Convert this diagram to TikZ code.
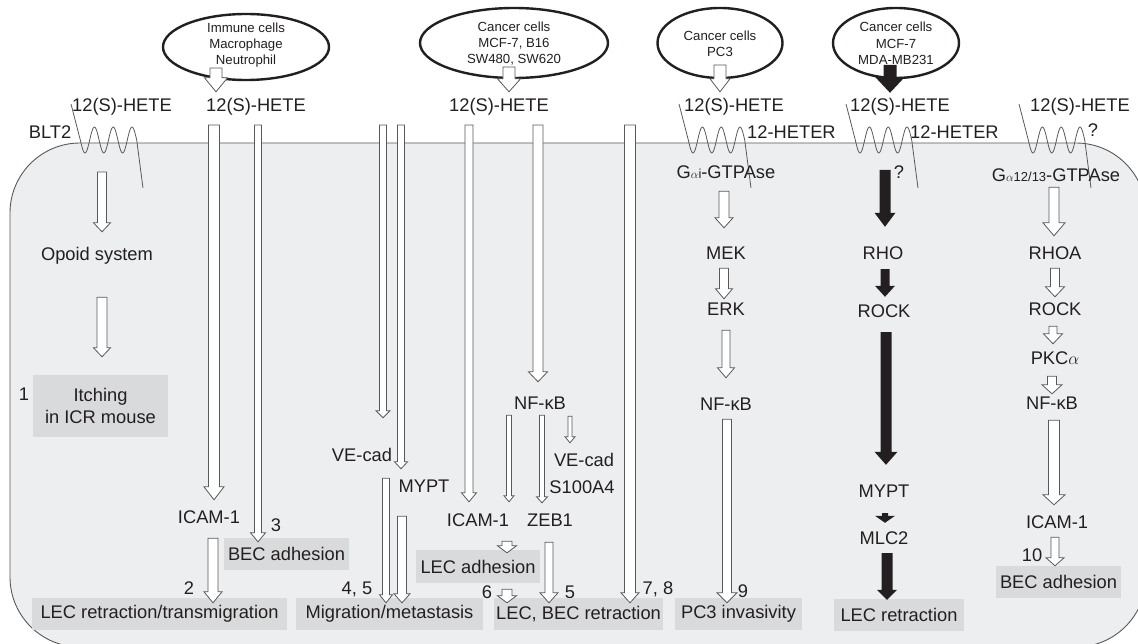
\documentclass[tikz,border=0pt]{standalone}
\usepackage{fontspec}
\setmainfont{Liberation Sans}
\usetikzlibrary{calc, shapes.geometric}
\definecolor{cInk}  {HTML}{231F20}
\definecolor{cCell} {HTML}{EDEEF0}
\definecolor{cBox}  {HTML}{D9DADC}
\definecolor{cEdge} {HTML}{58595B}
\tikzset{
  lbl/.style={font=\fontsize{18.3}{20}\selectfont, text=cInk, inner sep=0pt,
    text height=13pt, text depth=0pt},
  gbox/.style={fill=cBox, inner sep=0pt, text=cInk, minimum height=32pt,
    font=\fontsize{18.3}{22}\selectfont},
  cellell/.style={ellipse, draw=cInk, line width=2.4pt, fill=white,
    inner sep=0pt, outer sep=0pt},
  elltxt/.style={font=\fontsize{13.2}{16.3}\selectfont, align=center,
    text=cInk, inner sep=0pt},
  hollow/.style={draw=cEdge, fill=white, line width=0.8pt},
  blackarr/.style={fill=cInk},
  recep/.style={draw=cEdge, line width=0.8pt},
}
% vertical block arrow: [style]{from}{to}{shaft w}{head w}{head length}
\newcommand{\blk}[6][hollow]{%
  \path[#1] let \p1=#2, \p2=#3 in
    (\x1-#4/2,\y1) -- (\x1+#4/2,\y1) -- (\x1+#4/2,\y2+#6) -- (\x1+#5/2,\y2+#6)
    -- (\x1,\y2) -- (\x1-#5/2,\y2+#6) -- (\x1-#4/2,\y2+#6) -- cycle;}
% seven-pass receptor, #1 = first trough
\newcommand{\receptor}[1]{%
  \draw[recep] (#1-14,104) -- plot[domain=-90:990, samples=73]
    ({#1+\x/180*9.4},{140+13*cos(\x)}) -- (#1+58,188);}

\begin{document}
\begin{tikzpicture}[x=1pt, y=-1pt]
  \useasboundingbox (0,0) rectangle (1138,644);
  \clip (0,0) rectangle (1138,644);
  % cell
  \path[draw=cEdge, fill=cCell, line width=0.9pt, rounded corners=70pt]
    (10,143) rectangle (1146,647);
  % receptors
  \foreach \r in {85,693,860,1033}{ \receptor{\r} }
  % ligands and receptor names
  \foreach \n/\x in {1/122,2/256,3/499,4/734,5/900,6/1080}
    \node[lbl] (hete\n) at (\x,105) {12(S)-HETE};
  \node[lbl] (blt) at (50,132) {BLT2};
  \node[lbl, anchor=west] (heter1) at (747,132) {12-HETER};
  \node[lbl, anchor=west] (heter2) at (910,132) {12-HETER};
  \node[lbl] (qa) at (1093,130) {?};
  \node[lbl] (qb) at (899,172) {?};

  % BLT2 column
  \node[lbl] (opoid) at (97,254) {Opoid system};
  \node[gbox, minimum width=135pt, minimum height=62pt, align=center]
    (itch) at (100.5,406) {Itching\\in ICR mouse};
  \node[lbl] (n1) at (24,394) {1};
  % immune cell columns
  \node[lbl] (icam1) at (209,517) {ICAM-1};
  \node[lbl] (n2) at (189,588) {2};
  \node[lbl] (n3) at (276,525) {3};
  \node[gbox, minimum width=125pt] (bec1) at (286.5,554) {BEC adhesion};
  \node[gbox, minimum width=255pt] (lec1) at (159.5,614) {LEC retraction/transmigration};
  % cancer cell columns
  \node[lbl] (vecad1) at (362,455) {VE-cad};
  \node[lbl] (mypt1) at (424,486) {MYPT};
  \node[lbl] (n45) at (357,588) {4, 5};
  \node[gbox, minimum width=187pt] (migr) at (389.5,614) {Migration/metastasis};
  \node[lbl] (nfkb1) at (540,403) {NF-κB};
  \node[lbl] (icam2) at (478,520) {ICAM-1};
  \node[lbl] (zeb) at (550,520) {ZEB1};
  \node[lbl] (vecad2) at (584,460) {VE-cad};
  \node[lbl] (s100) at (582,487) {S100A4};
  \node[gbox, minimum width=124pt, minimum height=33pt] (lecad) at (478,566.5) {LEC adhesion};
  \node[lbl] (n6) at (487,592) {6};
  \node[lbl] (n5) at (570,592) {5};
  \node[gbox, minimum width=169pt] (lecbec) at (578.5,614) {LEC, BEC retraction};
  \node[lbl] (n78) at (658,588) {7, 8};
  % PC3 column
  \node[lbl] (gai) at (726,172) {G{\fontsize{13}{13}\selectfont$\alpha$i}-GTPAse};
  \node[lbl] (mek) at (726,253) {MEK};
  \node[lbl] (erk) at (726,309) {ERK};
  \node[lbl] (nfkb2) at (726,404) {NF-κB};
  \node[lbl] (n9) at (743,591) {9};
  \node[gbox, minimum width=127pt] (pc3) at (738.5,614) {PC3 invasivity};
  % MDA-MB231 column
  \node[lbl] (rho) at (883,253) {RHO};
  \node[lbl] (rock1) at (884,311) {ROCK};
  \node[lbl] (mypt2) at (884,491) {MYPT};
  \node[lbl] (mlc) at (884,538) {MLC2};
  \node[gbox, minimum width=130pt] (lecr) at (899,615) {LEC retraction};
  % right column
  \node[lbl] (ga12) at (1056,175) {G{\fontsize{13}{13}\selectfont$\alpha$12/13}-GTPAse};
  \node[lbl] (rhoa) at (1055,253) {RHOA};
  \node[lbl] (rock2) at (1055,309) {ROCK};
  \node[lbl] (pkc) at (1055,358) {PKC$\alpha$};
  \node[lbl] (nfkb3) at (1052,403) {NF-κB};
  \node[lbl] (icam3) at (1057,522) {ICAM-1};
  \node[lbl] (n10) at (1032,555) {10};
  \node[gbox, minimum width=125pt] (bec2) at (1058.5,582) {BEC adhesion};

  % source cells
  \node[cellell, minimum width=166pt, minimum height=66pt] (ell1) at (246,47) {};
  \node[elltxt] (ell1t) at (246,45) {Immune cells\\Macrophage\\Neutrophil};
  \node[cellell, minimum width=188pt, minimum height=70pt] (ell2) at (514,43) {};
  \node[elltxt] (ell2t) at (514,43.5) {Cancer cells\\MCF-7, B16\\SW480, SW620};
  \node[cellell, minimum width=125pt, minimum height=70pt] (ell3) at (720,43) {};
  \node[elltxt] (ell3t) at (720,43.5) {Cancer cells\\PC3};
  \node[cellell, minimum width=126pt, minimum height=70pt] (ell4) at (896,43) {};
  \node[elltxt] (ell4t) at (896,43.5) {Cancer cells\\MCF-7\\MDA-MB231};

  % release of 12(S)-HETE
  \blk{($(ell1.south)+(-30,-12)$)}{($(hete2.north)+(0,-6.5)$)}{12}{23}{14}
  \blk{($(ell2.south)+(-5,-11)$)}{($(hete3.north)+(0,-6.5)$)}{12}{23}{13}
  \blk{($(ell3.south)+(0,-13)$)}{($(hete4.north)+(0,-6.5)$)}{12}{20}{13}
  \blk[blackarr]{($(ell4.south)+(-6,-13)$)}{($(hete5.north)+(0,-5.5)$)}{13}{30}{16}

  % signals crossing the membrane
  \foreach \n/\x in {1/214,2/258,3/383,4/401,5/469,6/538,7/630}
    \coordinate (m\n) at (\x,125);
  \coordinate (c1) at (102,172);
  \coordinate (c2) at (885,170);
  \blk{(m1)}{($(icam1.north)+(0,-10.5)$)}{11}{20}{13}
  \blk{(m2)}{($(bec1.north)+(0,4)$)}{7}{15}{9}
  \blk{(m3)}{($(vecad1.north)+(0,-30.5)$)}{7}{14}{7}
  \blk{(m4)}{($(mypt1.north)+(0,-10.5)$)}{7}{13}{7}
  \blk{(m5)}{($(icam2.north)+(0,-11.5)$)}{8}{15}{9}
  \blk{(m6)}{($(nfkb1.north)+(0,-14.5)$)}{10}{19}{10}
  \blk{(m7)}{($(lecbec.north)+(0,5)$)}{11}{18}{10}

  % BLT2 and immune cells
  \blk{(c1)}{($(opoid.north)+(0,-15.5)$)}{9}{17}{9}
  \blk{($(opoid.south)+(5,36.5)$)}{($(itch.north)+(0,-18)$)}{10}{17}{9}
  \blk{($(icam1.south)+(4,14.5)$)}{($(lec1.north)+(0,5)$)}{10}{18}{11}
  % cancer cells
  \blk{($(vecad1.south)+(24,16.5)$)}{($(migr.north)+(0,5)$)}{7}{13}{8}
  \blk{($(mypt1.south)+(-22,23.5)$)}{($(migr.north)+(0,5)$)}{9}{16}{9}
  \blk{($(nfkb1.south)+(-31,5.5)$)}{($(icam2.north)+(0,-11.5)$)}{5}{10}{6}
  \blk{($(nfkb1.south)+(2,5.5)$)}{($(zeb.north)+(0,-10.5)$)}{5}{11}{6}
  \blk{($(nfkb1.south)+(30,6.5)$)}{($(vecad2.north)+(0,-10.5)$)}{4}{10}{6}
  \blk{($(icam2.south)+(29,14.5)$)}{($(lecad.north)+(0,3)$)}{10}{19}{7}
  \blk{($(lecad.south)+(29,6)$)}{($(lecbec.north)+(0,5)$)}{10}{19}{7}
  \blk{($(zeb.south)+(-1,15.5)$)}{($(lecbec.north)+(0,5)$)}{8}{18}{10}
  % PC3
  \blk{($(gai.south)+(-2,12.5)$)}{($(mek.north)+(0,-18.5)$)}{10}{18}{10}
  \blk{($(mek.south)+(-2,8.5)$)}{($(erk.north)+(0,-3.5)$)}{9}{17}{10}
  \blk{($(erk.south)+(0,14.5)$)}{($(nfkb2.north)+(0,-19.5)$)}{8}{17}{10}
  \blk{($(nfkb2.south)+(1,8.5)$)}{($(pc3.north)+(0,5)$)}{9}{20}{10}
  % MDA-MB231
  \blk[blackarr]{(c2)}{($(rho.north)+(0,-19.5)$)}{11}{21}{14}
  \blk[blackarr]{($(rho.south)+(2,9.5)$)}{($(rock1.north)+(0,-7.5)$)}{9}{20}{11}
  \blk[blackarr]{($(rock1.south)+(2,14.5)$)}{($(mypt2.north)+(0,-19.5)$)}{11}{23}{13}
  \blk[blackarr]{($(mypt2.south)+(1,15.5)$)}{($(mlc.north)+(0,-8.5)$)}{6}{20}{7}
  \blk[blackarr]{($(mlc.south)+(3,8.5)$)}{($(lecr.north)+(0,1)$)}{11}{20}{10}
  % G alpha 12/13
  \blk{($(ga12.south)+(-2,5.5)$)}{($(rhoa.north)+(0,-10.5)$)}{10}{22}{13}
  \blk{($(rhoa.south)+(0,8.5)$)}{($(rock2.north)+(0,-5.5)$)}{9}{19}{10}
  \blk{($(rock2.south)+(-2,10.5)$)}{($(pkc.north)+(0,-7.5)$)}{8}{19}{10}
  \blk{($(pkc.south)+(-3,11.5)$)}{($(nfkb3.north)+(0,-2.5)$)}{9}{20}{9}
  \blk{($(nfkb3.south)+(2,10.5)$)}{($(icam3.north)+(0,-10.5)$)}{11}{22}{10}
  \blk{($(icam3.south)+(-2,8.5)$)}{($(bec2.north)+(0,0)$)}{8}{18}{8}
\end{tikzpicture}
\end{document}
